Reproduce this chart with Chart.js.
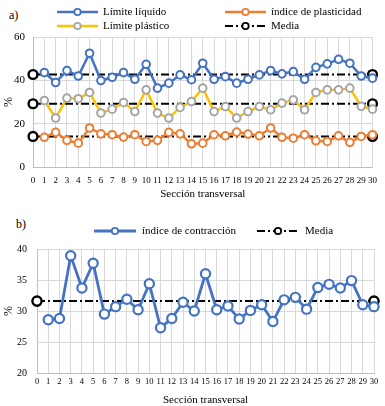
<!DOCTYPE html>
<html>
<head>
<meta charset="utf-8">
<script src="https://cdn.jsdelivr.net/npm/chart.js@4.4.1/dist/chart.umd.min.js"></script>
<style>
  html, body { margin: 0; padding: 0; background: #fff; }
  body { width: 385px; height: 406px; position: relative; overflow: hidden; }
  canvas { position: absolute; left: 0; }
  #c1 { top: 0; }
  #c2 { top: 200px; }
  .lab { position: absolute; font-family: 'Liberation Serif', serif; font-size: 12px; color: #000; line-height: 1; }
</style>
</head>
<body>
<div class="lab" style="left:9px; top:9px;">a)</div>
<div class="lab" style="left:16px; top:218px;">b)</div>
<canvas id="c1" width="385" height="200" style="width:385px;height:200px"></canvas>
<canvas id="c2" width="385" height="206" style="width:385px;height:206px"></canvas>
<script>
// ---- Data ----
const sections = ['0','1','2','3','4','5','6','7','8','9','10','11','12','13','14','15','16','17','18','19','20','21','22','23','24','25','26','27','28','29','30'];

const limiteLiquido     = [null,43.6,39.0,44.5,42.0,52.5,39.9,41.4,43.6,40.5,47.4,36.4,38.7,42.5,40.3,47.9,40.5,41.7,38.7,40.5,42.5,44.5,43.0,44.0,40.5,46.0,47.6,49.7,47.9,42.0,41.0];
const limitePlastico    = [null,30.7,22.6,31.8,31.5,34.4,24.9,26.7,29.8,25.6,35.6,24.9,22.6,27.5,30.2,36.4,25.6,27.9,22.6,25.6,27.9,26.4,29.5,31.0,26.4,34.4,35.6,35.6,36.4,28.0,26.7];
const indicePlasticidad = [null,13.7,16.0,12.3,11.0,18.0,15.3,14.9,13.8,14.9,11.8,12.3,16.0,15.3,10.7,11.0,14.9,14.4,16.1,15.2,14.4,18.0,13.7,13.3,14.9,12.1,11.8,14.4,11.4,14.1,14.9];
const mediaLL = 42.7;
const mediaLP = 29.2;
const mediaIP = 14.1;

const indiceContraccion = [null,28.6,28.8,38.9,33.7,37.7,29.5,30.7,31.9,30.2,34.4,27.3,28.8,31.4,30.0,36.0,30.2,30.8,28.7,30.1,31.0,28.3,31.8,32.2,30.3,33.8,34.3,33.7,34.9,31.0,30.7];
const mediaIC = 31.6;

const yTicksA = [0, 20, 40, 60];
const yTicksB = [20, 25, 30, 35, 40];

// ---- Styles ----
const BLUE = '#4472C4', ORANGE = '#ED7D31', GRAY = '#A5A5A5', YELLOW = '#FFC000';
const GRID = '#D9D9D9', AXIS = '#BFBFBF';
const SERIF = "'Liberation Serif', 'Times New Roman', serif";
const DASHDOT = [8, 3, 2, 3];

function meanData(v) {
  return [{x: sections[0], y: v}, {x: sections[sections.length - 1], y: v}];
}

function seriesDS(label, data, lineColor, pointColor, r, lw, pbw) {
  return {
    label, data, borderColor: lineColor, backgroundColor: '#fff',
    borderWidth: lw, tension: 0,
    pointRadius: r, pointBorderColor: pointColor, pointBackgroundColor: '#fff',
    pointBorderWidth: pbw, order: 1
  };
}
function meanDS(v, r) {
  return {
    label: 'Media', data: meanData(v), borderColor: '#000', borderWidth: 2,
    borderDash: DASHDOT, tension: 0,
    pointRadius: r, pointBorderColor: '#000', pointBackgroundColor: '#fff',
    pointBorderWidth: 2.4, order: 5
  };
}

const lineLegend = {
  id: 'lineLegend',
  afterDraw(chart, args, opts) {
    const ctx = chart.ctx;
    ctx.save();
    opts.items.forEach(it => {
      const ds = chart.data.datasets[it.ds];
      ctx.beginPath();
      ctx.setLineDash(ds.borderDash || []);
      ctx.strokeStyle = ds.borderColor;
      ctx.lineWidth = ds.borderWidth;
      ctx.moveTo(it.x, it.y);
      ctx.lineTo(it.x + opts.lineLength, it.y);
      ctx.stroke();
      ctx.setLineDash([]);
      ctx.beginPath();
      ctx.arc(it.x + opts.lineLength / 2, it.y, opts.r, 0, Math.PI * 2);
      ctx.fillStyle = '#fff';
      ctx.fill();
      ctx.strokeStyle = ds.pointBorderColor;
      ctx.lineWidth = 1.8;
      ctx.stroke();
      ctx.fillStyle = '#000';
      ctx.font = opts.font;
      ctx.textBaseline = 'middle';
      ctx.textAlign = 'left';
      ctx.fillText(ds.label, it.x + opts.lineLength + opts.gap, it.y + 0.5);
    });
    ctx.restore();
  }
};

function makeOptions(cfg) {
  return {
    responsive: false,
    animation: false,
    devicePixelRatio: 1,
    layout: { padding: { top: cfg.top, right: cfg.right, left: 0, bottom: 0 } },
    plugins: {
      legend: { display: false },
      tooltip: { enabled: false },
      lineLegend: cfg.legend
    },
    scales: {
      x: {
        type: 'category',
        offset: false,
        grid: { color: GRID, lineWidth: 1, drawTicks: false },
        border: { color: AXIS, width: 1 },
        ticks: { autoSkip: false, maxRotation: 0, minRotation: 0, padding: cfg.xPad,
                 color: '#000', font: { family: SERIF, size: cfg.xFont } },
        title: { display: true, text: 'Sección transversal', color: '#000',
                 padding: { top: 0, bottom: 0 },
                 font: { family: SERIF, size: 11, lineHeight: 1 } },
        afterFit(scale) { scale.height = cfg.xHeight; }
      },
      y: {
        min: cfg.yTicks[0], max: cfg.yTicks[cfg.yTicks.length - 1],
        afterBuildTicks(scale) { scale.ticks = cfg.yTicks.map(v => ({ value: v })); },
        grid: { color: GRID, lineWidth: 1, drawTicks: false },
        border: { color: AXIS, width: 1 },
        ticks: { padding: cfg.yPad, color: '#000', font: { family: SERIF, size: cfg.yFont } },
        title: { display: true, text: '%', color: '#000',
                 padding: { top: 3, bottom: 0 },
                 font: { family: SERIF, size: 12, lineHeight: 1 } },
        afterFit(scale) { scale.width = cfg.yWidth; }
      }
    }
  };
}

// ---- Chart a) ----
new Chart(document.getElementById('c1'), {
  type: 'line',
  data: {
    labels: sections,
    datasets: [
      seriesDS('Límite líquido', limiteLiquido, BLUE, BLUE, 3.8, 2.5, 2),
      seriesDS('índice de plasticidad', indicePlasticidad, ORANGE, ORANGE, 3.8, 2.5, 2),
      seriesDS('Límite plástico', limitePlastico, YELLOW, GRAY, 3.8, 2.5, 2),
      meanDS(mediaLL, 4.4),
      meanDS(mediaLP, 4.4),
      meanDS(mediaIP, 4.4)
    ]
  },
  options: makeOptions({
    top: 37, right: 10, xHeight: 33, yWidth: 33, xPad: 8, yPad: 8,
    xFont: 9, yFont: 11, yTicks: yTicksA,
    legend: {
      lineLength: 41, gap: 5, r: 3.2, font: "11px 'Liberation Serif', serif",
      items: [
        { ds: 0, x: 57, y: 12 },
        { ds: 1, x: 225, y: 12 },
        { ds: 2, x: 57, y: 26 },
        { ds: 3, x: 225, y: 26 }
      ]
    }
  }),
  plugins: [lineLegend]
});

// ---- Chart b) ----
new Chart(document.getElementById('c2'), {
  type: 'line',
  data: {
    labels: sections,
    datasets: [
      seriesDS('índice de contracción', indiceContraccion, BLUE, BLUE, 4.6, 2.8, 2.2),
      meanDS(mediaIC, 4.6)
    ]
  },
  options: makeOptions({
    top: 49, right: 11, xHeight: 33, yWidth: 37, xPad: 4, yPad: 10,
    xFont: 8.5, yFont: 10, yTicks: yTicksB,
    legend: {
      lineLength: 42, gap: 6, r: 3.2, font: "11px 'Liberation Serif', serif",
      items: [
        { ds: 0, x: 94, y: 31 },
        { ds: 1, x: 257, y: 31 }
      ]
    }
  }),
  plugins: [lineLegend]
});
</script>
</body>
</html>
